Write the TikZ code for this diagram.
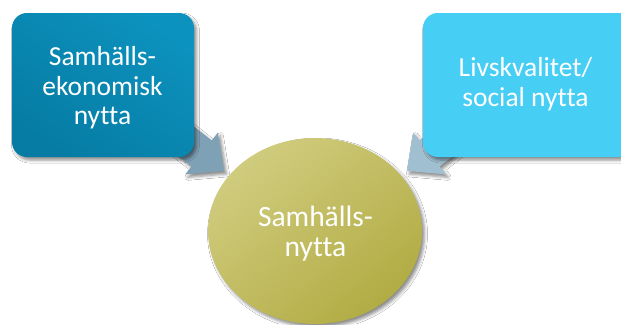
\documentclass[tikz,border=0pt]{standalone}
\usepackage{fontspec}
\setmainfont{Carlito}[Ligatures=NoCommon]
\usetikzlibrary{shapes.geometric,shadows.blur}
\definecolor{boxAtop}{RGB}{12,146,190}
\definecolor{boxAbot}{RGB}{6,124,164}
\definecolor{boxB}{RGB}{70,206,244}
\definecolor{arrA}{RGB}{127,161,182}
\definecolor{arrB}{RGB}{160,191,208}
\definecolor{ellTop}{RGB}{208,204,126}
\definecolor{ellBot}{RGB}{178,172,68}
\tikzset{
  softshadow/.style={blur shadow={shadow xshift=2.5pt, shadow yshift=-3pt, shadow blur radius=3pt, shadow opacity=45}},
  boxstyle/.style={rounded corners=15pt, minimum width=#1, minimum height=144pt, inner sep=0pt, softshadow},
  boxtext/.style={text=white, align=center, inner sep=0pt, font=\fontsize{27.5}{29.5}\selectfont},
  elltext/.style={text=white, align=center, inner sep=0pt, font=\fontsize{29.5}{30}\selectfont},
  ellstyle/.style={ellipse, minimum width=214pt, minimum height=186pt, inner sep=0pt, softshadow},
  blockarrow/.style={softshadow}
}
\begin{document}
\begin{tikzpicture}[x=1pt,y=1pt]
\useasboundingbox (0,0) rectangle (621,-324);
\fill[white] (0,0) rectangle (621,-324);
% tips of the block arrows
\coordinate (tipL) at (224,-171);
\coordinate (tipR) at (407,-171);
% block arrows (behind boxes)
\begin{scope}[shift={(tipL)}, rotate=-38]
  \fill[arrA, blockarrow] (0,0) -- (-28.5,26.5) -- (-28.5,16.5) -- (-85,16.5) -- (-85,-16.5) -- (-28.5,-16.5) -- (-28.5,-26.5) -- cycle;
\end{scope}
\begin{scope}[shift={(tipR)}, rotate=-142]
  \fill[arrB, blockarrow] (0,0) -- (-28.5,26.5) -- (-28.5,16.5) -- (-85,16.5) -- (-85,-16.5) -- (-28.5,-16.5) -- (-28.5,-26.5) -- cycle;
\end{scope}
% boxes
\node[boxstyle=182pt, top color=boxAtop, bottom color=boxAbot, shading angle=-35] (left) at (103,-85) {};
\node[boxtext] (lefttext) at (102.5,-88) {Samhälls-\\ekonomisk\\nytta};
\node[boxstyle=225pt, fill=boxB] (right) at (535.5,-85) {};
\node[boxtext] (righttext) at (525.5,-84) {Livskvalitet/\\social nytta};
% ellipse
\node[ellstyle, top color=ellTop, bottom color=ellBot, shading angle=40] (mid) at (315,-231) {};
\node[elltext] (midtext) at (315.5,-234) {Samhälls-\\nytta};
\end{tikzpicture}
\end{document}
